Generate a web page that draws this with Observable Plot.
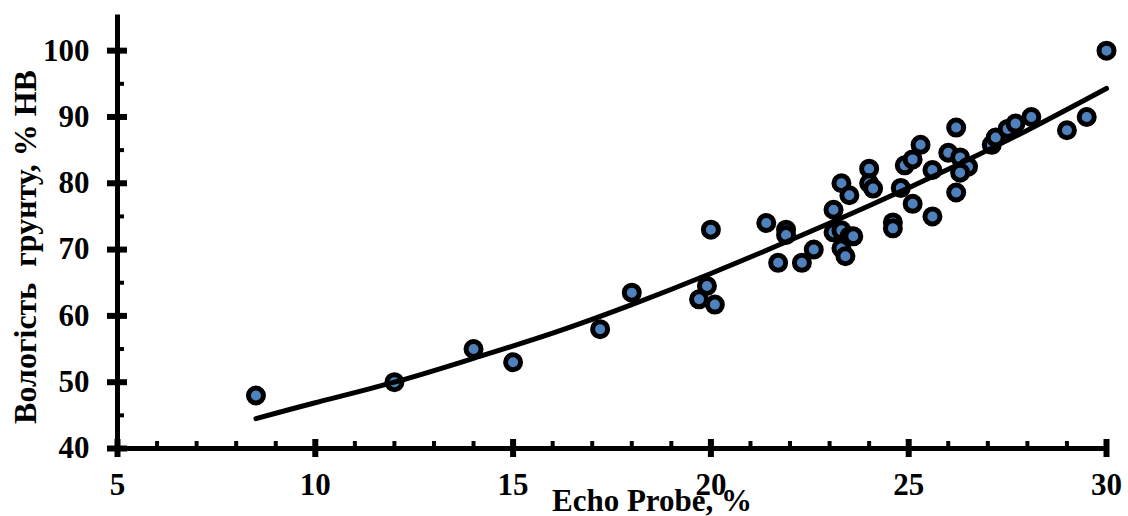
<!DOCTYPE html>
<html>
<head>
<meta charset="utf-8">
<script src="https://cdn.jsdelivr.net/npm/d3@7"></script>
<script src="https://cdn.jsdelivr.net/npm/@observablehq/plot@0.6"></script>
<style>
  html, body { margin: 0; padding: 0; background: #fff; }
  #chart svg { display: block; }
</style>
</head>
<body>
<div id="chart"></div>
<script>
// Measured points: Echo Probe, % vs soil moisture, % НВ
const probeX = [8.5, 12, 14, 15, 17.2, 18, 19.7, 19.9, 20.1, 20, 21.4, 21.9, 21.9, 21.7, 22.3, 22.6,
  23.1, 23.1, 23.3, 23.3, 23.5, 23.3, 23.4, 23.5, 23.6, 24, 24, 24.1, 24.6, 24.6, 24.8, 24.9, 25.1,
  25.3, 25.1, 25.6, 25.6, 26, 26.3, 26.5, 26.3, 26.2, 26.2, 27.1, 27.2, 27.5, 27.7, 28.1, 29, 29.5, 30];
const moistY = [48, 50, 55, 53, 58, 63.5, 62.5, 64.5, 61.7, 73, 74, 73, 72.2, 68, 68, 70,
  76, 72.6, 72.9, 80, 78.2, 70.2, 69, 72, 72, 82.2, 80, 79.2, 74.1, 73.2, 79.3, 82.7, 83.6,
  85.8, 76.9, 75, 82, 84.6, 83.9, 82.5, 81.6, 78.6, 88.4, 85.8, 86.9, 88.2, 89, 90, 88, 90, 100];

// Trend curve
const trendX = [8.5, 10, 12, 14, 16, 18, 20, 22, 24, 26, 28, 30];
const trendY = [44.5, 46.9, 50.0, 53.6, 57.4, 61.7, 66.4, 71.4, 76.6, 82.1, 88.0, 94.3];

// Ticks
const xMajor = [5, 10, 15, 20, 25, 30];
const xMinor = [6, 7, 8, 9, 11, 12, 13, 14, 16, 17, 18, 19, 21, 22, 23, 24, 26, 27, 28, 29];
const yMajor = [40, 50, 60, 70, 80, 90, 100];
const yMinor = [45, 55, 65, 75, 85, 95];

const xTitle = "Echo Probe, %";
const yTitle = "Вологість\u00a0 грунту, % НВ";

const points = probeX.map((x, i) => ({x, y: moistY[i]}));
const trend = trendX.map((x, i) => ({x, y: trendY[i]}));

const FS = 31;
const FONT = "'Liberation Serif', 'Times New Roman', serif";

const chart = Plot.plot({
  width: 1128,
  height: 516,
  marginLeft: 117,
  marginRight: 22,
  marginTop: 17,
  marginBottom: 68,
  style: {fontFamily: FONT, fontWeight: "bold", fontSize: FS + "px", color: "#000", background: "#fff"},
  x: {domain: [5, 30], axis: null},
  y: {domain: [40, 105], axis: null},
  marks: [
    // axis lines
    Plot.ruleY([40], {stroke: "#000", strokeWidth: 5}),
    Plot.ruleX([5], {stroke: "#000", strokeWidth: 5, strokeLinecap: "square"}),
    // x ticks
    Plot.ruleX(xMajor, {x: d => d, y1: 40, y2: 40, insetTop: -9, insetBottom: -9, stroke: "#000", strokeWidth: 6}),
    Plot.ruleX(xMinor, {x: d => d, y1: 40, y2: 40, insetTop: -7, insetBottom: 0, stroke: "#000", strokeWidth: 4}),
    // y ticks
    Plot.ruleY(yMajor, {y: d => d, x1: 5, x2: 5, insetLeft: -10, insetRight: -10, stroke: "#000", strokeWidth: 6}),
    Plot.ruleY(yMinor, {y: d => d, x1: 5, x2: 5, insetLeft: 0, insetRight: -7, stroke: "#000", strokeWidth: 4}),
    // tick labels
    Plot.axisX({ticks: xMajor, tickSize: 0, tickPadding: 24, label: null, tickFormat: d => String(d), fontSize: FS, fontWeight: "bold", fontFamily: FONT}),
    Plot.axisY({ticks: yMajor, tickSize: 0, tickPadding: 28, label: null, tickFormat: d => String(d), fontSize: FS, fontWeight: "bold", fontFamily: FONT}),
    // data
    Plot.dot(points, {x: "x", y: "y", r: 7.5, fill: "#4f81bd", stroke: "#000", strokeWidth: 5}),
    Plot.line(trend, {x: "x", y: "y", curve: "natural", stroke: "#000", strokeWidth: 5}),
    // axis titles
    Plot.text([xTitle], {frameAnchor: "bottom", text: d => d, dx: 40, dy: 53, lineAnchor: "middle", fontSize: FS, fontWeight: "bold", fontFamily: FONT}),
    Plot.text([yTitle], {frameAnchor: "left", text: d => d, rotate: -90, dx: -92, dy: 14, textAnchor: "middle", lineAnchor: "middle", fontSize: 32, fontWeight: "bold", fontFamily: FONT})
  ]
});
document.getElementById("chart").appendChild(chart);
</script>
</body>
</html>
